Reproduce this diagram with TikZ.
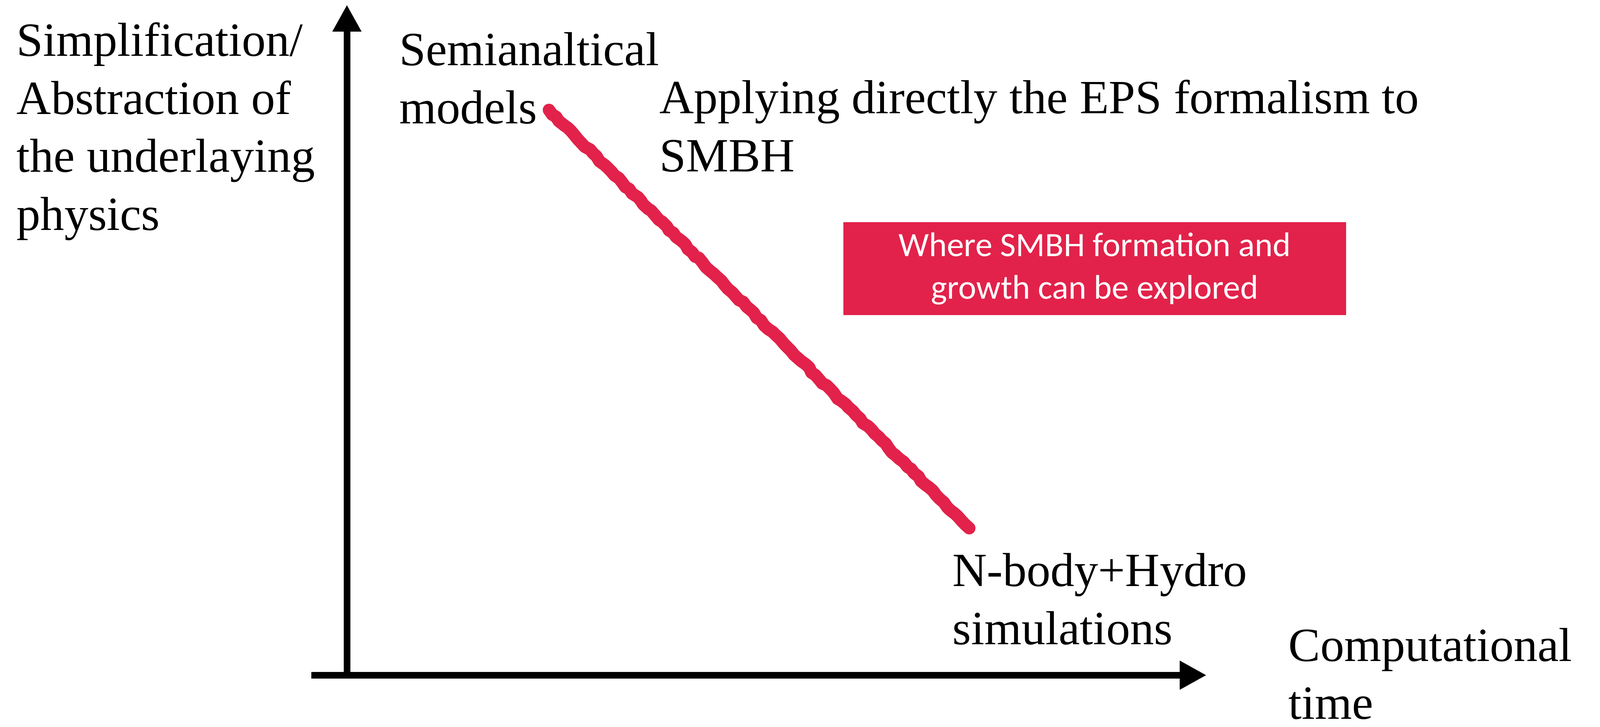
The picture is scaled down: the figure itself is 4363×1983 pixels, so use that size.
\documentclass[tikz,border=0pt]{standalone}
\usepackage{fontspec}
\setmainfont{Liberation Serif}
\newfontfamily\boxfont{Carlito}
\usepackage{xcolor}
\usetikzlibrary{arrows.meta, positioning, decorations.pathmorphing}
\definecolor{smbhred}{RGB}{226,34,74}

\begin{document}
\begin{tikzpicture}[x=0.01cm, y=-0.01cm, >={Triangle[length=0.73cm, width=0.74cm]}]
    \tikzstyle{axis} = [->, line width=0.18cm]
    \tikzstyle{label} = [anchor=base west, inner sep=0pt, align=left, font=\fontsize{37}{45}\selectfont]
    \tikzstyle{stroke} = [smbhred, line width=0.34cm, line cap=round, line join=round, decorate, decoration={random steps, segment length=4pt, amplitude=0.8pt}]
    \tikzstyle{region} = [fill=smbhred, text=white, inner sep=0pt, minimum width=13.7cm, minimum height=2.54cm, align=center, font=\boxfont\fontsize{26.5}{33}\selectfont]

    \useasboundingbox (0,0) rectangle (4363,1983);

    \coordinate (origin) at (946,1842);
    \coordinate (ytip) at (946,13);
    \coordinate (xstart) at (849,1842);
    \coordinate (xtip) at (3290,1842);

    \draw[axis] (origin) -- (ytip);
    \draw[axis] (xstart) -- (xtip);

    % labels sit on the baseline of their last line
    \node[label] (yaxis) at (45,628) {Simplification/\\Abstraction of\\the underlaying\\physics};
    \node[label] (semi) at (1088,337) {Semianaltical\\models};
    \node[label] (eps) at (1798,468) {Applying directly the EPS formalism to\\SMBH};
    \node[label] (nbody) at (2597,1758) {N-body+Hydro\\simulations};
    \node[label] (xaxis) at (3513,1962) {Computational\\time};

    \node[region] (where) at (2985,733) {Where SMBH formation and\\growth can be explored};

    % the sequence from semianalytical models to full simulations
    \coordinate (semiend) at (1497,300);
    \coordinate (nbodyend) at (2643,1441);
    \draw[stroke] (semiend) -- (nbodyend);
\end{tikzpicture}
\end{document}
